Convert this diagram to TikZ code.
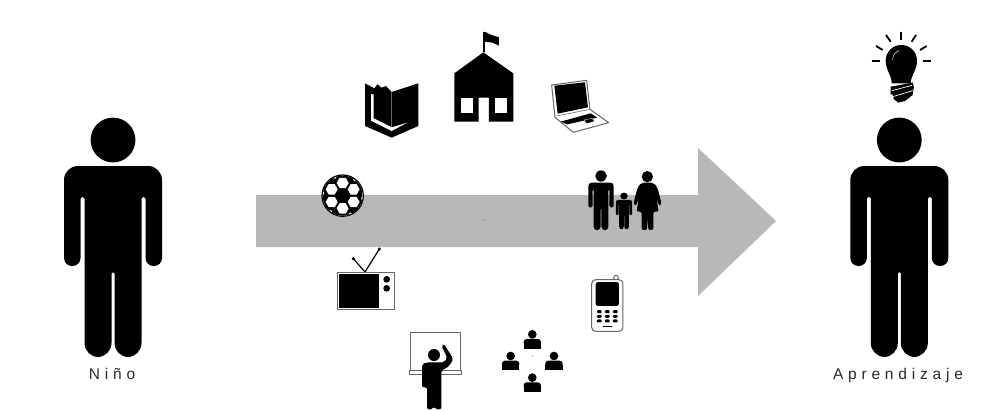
\documentclass[tikz,border=0pt]{standalone}
\usepackage{fontspec}
\newfontfamily\lblfont[LetterSpace=31]{Liberation Sans}
\definecolor{bandgray}{HTML}{B9B8B6}
\definecolor{edgegray}{HTML}{666666}
\definecolor{txtgray}{HTML}{2A2A2A}
\tikzset{
  lbl/.style={font=\lblfont\fontsize{15.5}{18}\selectfont,text=txtgray,inner sep=0pt,anchor=base},
  zone/.style args={#1/#2}{shift={(#1,#2)},x=0.3333pt,y=-0.3333pt},
  framed/.style={fill=white,draw=edgegray,line width=1pt}
}
% person: head centre x,y, scale sx, sy
\newcommand{\personfig}[4]{%
\begin{scope}[shift={(#1,#2)},xscale=#3,yscale=#4]
\pgfmathsetmacro{\rA}{14*#3}\pgfmathsetmacro{\rB}{8*#3}\pgfmathsetmacro{\rC}{1.5*#3}
\fill[black] (0,0) ellipse (22.4 and 22.4);
\fill[black,rounded corners=\rA pt] (0,26) -- (49,26)
  [rounded corners=\rB pt] -- (49,126) -- (32.5,126)
  [rounded corners=\rC pt] -- (32.5,57) -- (28.5,57)
  [rounded corners=\rA pt] -- (28.5,217) -- (1.5,217)
  [rounded corners=\rC pt] -- (1.5,132) -- (-1.5,132)
  [rounded corners=\rA pt] -- (-1.5,217) -- (-28.5,217)
  [rounded corners=\rC pt] -- (-28.5,57) -- (-32.5,57)
  [rounded corners=\rB pt] -- (-32.5,126) -- (-49,126)
  [rounded corners=\rA pt] -- (-49,26) -- cycle;
\end{scope}}
\newcommand{\bustfig}[2]{%
\fill[black] (#1,#2) circle (13);
\fill[black,rounded corners=3pt] (#1-26,#2+34) -- (#1-26,#2+14) -- (#1+26,#2+14) -- (#1+26,#2+34) -- cycle;
\fill[black] (#1-26,#2+26) rectangle (#1+26,#2+43);}
\begin{document}
\begin{tikzpicture}[x=1pt,y=-1pt]
\useasboundingbox (0,0) rectangle (995,410);
\fill[white] (0,0) rectangle (995,410);
% arrow
\fill[bandgray] (256,195) -- (698,195) -- (698,148) -- (776,221) -- (698,296) -- (698,247) -- (256,247) -- cycle;
\fill[black!70] (484,220) circle (0.6);
% persons
\personfig{113}{140}{1}{1}
\personfig{899.3}{140}{1}{1}
\node[lbl] (nino) at (112,379) {Niño};
\node[lbl] (aprendizaje) at (898,379) {Aprendizaje};
% icons from the top zone
\begin{scope}[zone=320/20]
 % book
 \fill[black] (135,190) -- (163,205) -- (172,193) -- (185,203) -- (198,198) -- (215,216) -- (295,190) -- (295,318) -- (215,353) -- (135,318) -- cycle;
 \fill[white] (153,222) -- (161,224) -- (161,295) -- (215,322) -- (262,308) -- (215,333) -- (153,302) -- cycle;
 \draw[edgegray,line width=0.6pt] (215,216) -- (215,322);
 % school
 \fill[black] (403,160) -- (490,97) -- (580,160) -- (580,305) -- (507,305) -- (507,233) -- (476,233) -- (476,305) -- (403,305) -- cycle;
 \fill[white] (423,233) rectangle (458,279);
 \fill[white] (524,233) rectangle (560,279);
 \fill[black] (489,35) rectangle (494,97);
 \fill[black] (494,35) -- (512,44) -- (537,52) -- (537,77) -- (518,68) -- (494,65) -- cycle;
 % laptop
 \fill[white,draw=edgegray,line width=1pt,line join=round] (695,195) -- (800,181) -- (810,268) -- (866,308) -- (760,337) -- (705,292) -- cycle;
 \fill[black] (703,197) -- (795,187) -- (804,262) -- (713,281) -- cycle;
 \draw[edgegray,line width=0.6pt] (710,288) -- (810,268);
 \fill[black] (722,305) -- (812,280) -- (832,293) -- (742,313) -- cycle;
 \fill[black,draw=white,line width=0.3pt] (792,300) -- (816,295) -- (824,304) -- (800,311) -- cycle;
 % ball
 \fill[white] (68,527) circle (63);
 \begin{scope}
  \clip (68,527) circle (60);
  \fill[black] (68,527) circle (60);
  \foreach \a in {30,90,150,210,270,330}{
   \begin{scope}[shift={(68,527)}]
    \fill[white] ({\a}:38) ++(0:18) -- ++(120:18) -- ++(180:18) -- ++(240:18) -- ++(300:18) -- ++(0:18) -- cycle;
   \end{scope}}
  \foreach \a in {7,67,127,187,247,307}{
   \begin{scope}[shift={(68,527)}]
    \fill[white] ({\a}:62) circle (6);
   \end{scope}}
 \end{scope}
 \draw[black,line width=1.2pt] (68,527) circle (62);
\end{scope}
% lower zone
\begin{scope}[zone=320/230]
 % tv
 \draw[black,line width=1.2pt] (135,126) -- (100,86);
 \draw[black,line width=1.2pt] (135,126) -- (178,57);
 \fill[black] (100,86) circle (5);
 \fill[black] (178,57) circle (5);
 \draw[framed] (52,126) rectangle (223,239);
 \fill[black] (57,131) rectangle (178,234);
 \fill[black] (200,148) circle (10);
 \fill[black] (200,175) circle (10);
 % phone
 \draw[edgegray,line width=1pt,fill=white] (888,143) circle (7);
 \draw[framed,rounded corners=4pt] (815,149) rectangle (909,304);
 \fill[black,rounded corners=2.5pt] (827,156) rectangle (897,228);
 \foreach \px in {838,862,886}\foreach \py in {245,259,273}{
  \fill[black,rounded corners=1pt] (\px-7,\py-4.5) rectangle (\px+7,\py+4.5);}
 \fill[black] (849,288) rectangle (875,292);
 % group
 \bustfig{637}{313}
 \bustfig{572}{378}
 \bustfig{702}{378}
 \bustfig{637}{443}
 \fill[black!70] (637,378) circle (1.6);
\end{scope}
% teacher
\begin{scope}[zone=400/325]
 \draw[framed] (31,22) rectangle (181,140);
 \draw[framed] (27,136) rectangle (183,147);
 \fill[black] (102,90) circle (18);
 \fill[black,rounded corners=2pt] (80,112) -- (132,112) -- (142,98) -- (124,62) -- (132,57) -- (160,102) -- (147,124) -- (124,137) -- (124,253) -- (105,253) -- (102,243) -- (99,253) -- (81,253) -- (81,187) -- (66,187) -- (66,118) -- cycle;
\end{scope}
% family
\personfig{601}{176}{0.26}{0.25}
\personfig{624}{196}{0.167}{0.153}
\begin{scope}[zone=570/150]
 \fill[black] (232,80) circle (17);
 \fill[black,rounded corners=2pt] (215,98) -- (250,98) -- (262,112) -- (275,162) -- (268,168) -- (260,148) -- (266,185) -- (250,185) -- (250,240) -- (235,240) -- (233,200) -- (231,240) -- (215,240) -- (215,185) -- (200,185) -- (205,148) -- (197,168) -- (190,162) -- (203,112) -- cycle;
\end{scope}
% bulb
\begin{scope}[zone=820/20]
 \fill[black] (215,190) .. controls (215,165) and (197,150) .. (197,122) .. controls (197,95) and (218,75) .. (244,75) .. controls (270,75) and (291,95) .. (291,122) .. controls (291,150) and (273,165) .. (272,190) -- cycle;
 \draw[white,line width=0.5pt] (218,120) .. controls (218,105) and (226,95) .. (238,92);
 \fill[black] (212,200) -- (278,188) -- (282,204) -- (212,224) -- cycle;
 \fill[black] (217,222) -- (281,204) -- (278,225) -- (255,243) -- (235,248) -- (222,238) -- cycle;
 \draw[white,line width=0.7pt] (216,212) -- (276,196);
 \draw[white,line width=0.7pt] (218,230) -- (278,212);
 \foreach \ax/\ay/\bx/\by in {155/122/180/122,308/122/333/122,168/78/188/90,320/78/300/90,198/45/212/65,288/45/275/65,243/35/243/60}{
  \draw[black,line width=1.8pt] (\ax,\ay) -- (\bx,\by);}
\end{scope}
\end{tikzpicture}
\end{document}
